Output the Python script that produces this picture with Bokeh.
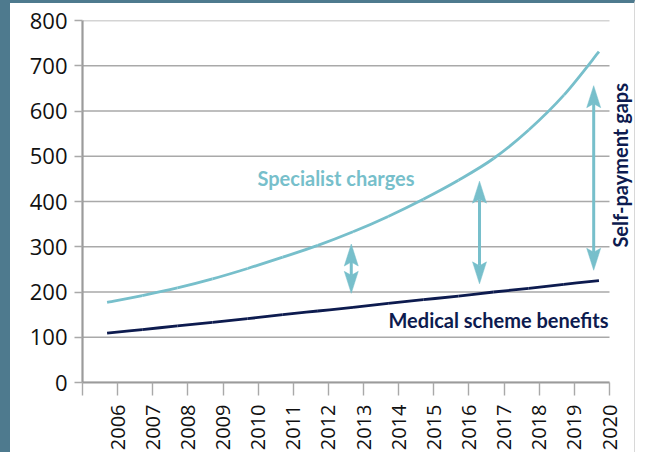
import math
from bokeh.plotting import figure
from bokeh.models import Label, FixedTicker
from bokeh.embed import file_html
from bokeh.resources import INLINE

# ---- data ----
years = [2006, 2007, 2008, 2009, 2010, 2011, 2012, 2013, 2014, 2015, 2016, 2017, 2018, 2019, 2020]
specialist = [177, 192, 209, 229, 252, 277, 303, 333, 367, 405, 447, 495, 558, 635, 731]
medical = [109, 117, 125, 133, 141, 150, 158, 166, 175, 183, 191, 200, 208, 217, 225]
y_ticks = [0, 100, 200, 300, 400, 500, 600, 700, 800]
x_ticks = [2005, 2006, 2007, 2008, 2009, 2010, 2011, 2012, 2013, 2014, 2015, 2016, 2017, 2018, 2019, 2020]
gap_x = [2012.65, 2016.3, 2019.55]
gap_top = [306, 445, 656]
gap_bottom = [197, 218, 248]

# ---- style ----
TEAL = "#77bfcb"
NAVY = "#0d1b4f"
SLATE = "#4e7a8e"
GRID = "#a9a9a9"
AXIS = "#9b9b9b"
BL, BT, BR = 10, 3, 1          # css border widths (left, top, right)
CW, CH = 646 - BL - BR, 455 - BT
LEFT, TOP, BOTTOM = 72, 17, 73
X0, X_END, Y0, Y1 = 2005, 2020, 0, 800
PX_PER_YEAR = 527 / 15
FRAME_W = CW - LEFT
X1 = X0 + FRAME_W / PX_PER_YEAR
SHIFT = -0.3  # points sit a little left of the year tick

p = figure(width=CW, height=CH, x_range=(X0, X1), y_range=(Y0, Y1),
           output_backend="svg", toolbar_location=None,
           min_border_left=LEFT, min_border_right=0,
           min_border_top=TOP, min_border_bottom=BOTTOM)
p.styles = {"border-left": f"{BL}px solid {SLATE}",
            "border-top": f"{BT}px solid {SLATE}",
            "border-right": f"{BR}px solid #d8d8d8"}
p.outline_line_color = None
p.background_fill_color = "white"
p.border_fill_color = "white"
p.xgrid.grid_line_color = None
p.ygrid.grid_line_color = None

p.yaxis.ticker = FixedTicker(ticks=y_ticks)
p.xaxis.ticker = FixedTicker(ticks=x_ticks)
p.xaxis.bounds = (X0, X_END)
p.xaxis.major_label_overrides = {2005: ""}
p.xaxis.major_label_orientation = math.pi / 2
for ax, out, so, fs in ((p.xaxis, 13, 9, "20px"), (p.yaxis, 8, 7, "22px")):
    ax.axis_line_color = AXIS
    ax.axis_line_width = 2.2
    ax.major_tick_line_color = GRID
    ax.major_tick_line_width = 1.4
    ax.major_tick_out = out
    ax.major_tick_in = 0
    ax.minor_tick_line_color = None
    ax.major_label_standoff = so
    ax.major_label_text_font = "Open Sans"
    ax.major_label_text_font_size = fs
    ax.major_label_text_color = "#111111"

# horizontal grid lines, only across the year span
p.segment(x0=[X0] * len(y_ticks), x1=[X_END] * len(y_ticks), y0=y_ticks, y1=y_ticks,
          line_color=GRID, line_width=1.4)


def smooth(xv, yv, color):
    """Draw the series as a Catmull-Rom spline (Bezier pieces through every point)."""
    n = len(xv)
    d = dict(x0=[], y0=[], x1=[], y1=[], cx0=[], cy0=[], cx1=[], cy1=[])
    for i in range(n - 1):
        a, b = max(i - 1, 0), min(i + 2, n - 1)
        d["x0"].append(xv[i]); d["y0"].append(yv[i])
        d["x1"].append(xv[i + 1]); d["y1"].append(yv[i + 1])
        d["cx0"].append(xv[i] + (xv[i + 1] - xv[a]) / 6)
        d["cy0"].append(yv[i] + (yv[i + 1] - yv[a]) / 6)
        d["cx1"].append(xv[i + 1] - (xv[b] - xv[i]) / 6)
        d["cy1"].append(yv[i + 1] - (yv[b] - yv[i]) / 6)
    p.bezier(line_color=color, line_width=2.8, **d)


xs = [y + SHIFT for y in years]
smooth(xs, specialist, TEAL)
smooth(xs, medical, NAVY)

# double-headed arrows built from the gap arrays
px_y = (CH - TOP - BOTTOM) / (Y1 - Y0)
HL, HW, HN = 22 / px_y, 7 / PX_PER_YEAR, 4 / px_y
head_xs, head_ys = [], []
for x, t, b in zip(gap_x, gap_top, gap_bottom):
    head_xs += [[x, x + HW, x, x - HW], [x, x + HW, x, x - HW]]
    head_ys += [[t, t - HL, t - HL + HN, t - HL], [b, b + HL, b + HL - HN, b + HL]]
p.segment(x0=gap_x, y0=[t - HL + HN for t in gap_top], x1=gap_x,
          y1=[b + HL - HN for b in gap_bottom], line_color=TEAL, line_width=3)
p.patches(head_xs, head_ys, fill_color=TEAL, line_color=TEAL, line_width=0.5)

p.add_layout(Label(x=2009.98, y=452, text="Specialist charges", text_font="Lato",
                   text_font_style="bold", text_font_size="20px", text_color=TEAL,
                   text_align="left", text_baseline="middle"))
p.add_layout(Label(x=2013.71, y=139, text="Medical scheme benefits", text_font="Lato",
                   text_font_style="bold", text_font_size="20px", text_color=NAVY,
                   text_align="left", text_baseline="middle"))
p.add_layout(Label(x=2020.31, y=480, text="Self-payment gaps", text_font="Lato",
                   text_font_style="bold", text_font_size="20px", text_color=NAVY,
                   text_align="center", text_baseline="middle", angle=math.pi / 2))

open("out.html", "w").write(file_html(p, INLINE))
